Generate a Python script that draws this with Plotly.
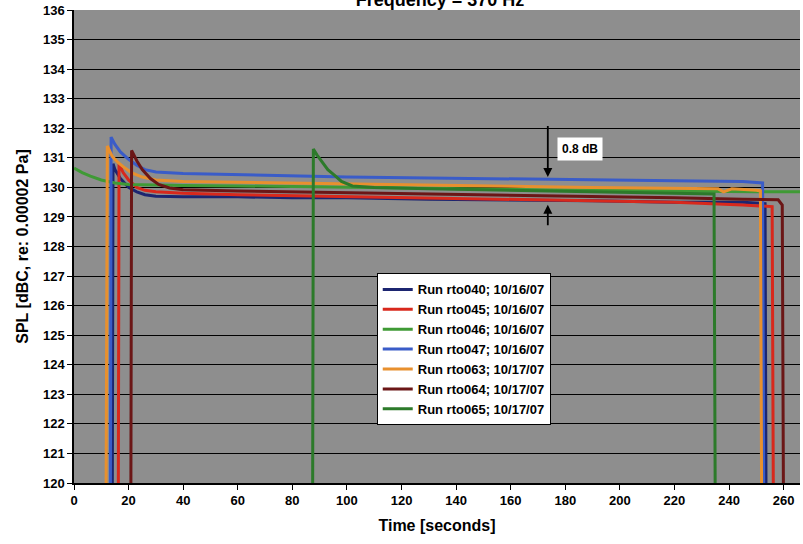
import plotly.graph_objects as go

# ---- data ----
names = ["Run rto040; 10/16/07", "Run rto045; 10/16/07", "Run rto046; 10/16/07",
         "Run rto047; 10/16/07", "Run rto063; 10/17/07", "Run rto064; 10/17/07",
         "Run rto065; 10/17/07"]
colors = ["#1c2570", "#d8281c", "#3f9a35", "#3a5cc8", "#e8902e", "#6b1616", "#2c7a2a"]

t040 = [14.0, 14.3, 15, 17, 20, 23, 26, 30, 40, 60, 80, 100, 130, 160, 190, 220, 245, 253.2, 253.6]
v040 = [118, 130.8, 130.6, 130.3, 130.0, 129.85, 129.75, 129.7, 129.68, 129.68, 129.65, 129.65, 129.6, 129.58, 129.55, 129.5, 129.5, 129.45, 118]

t045 = [16.2, 16.5, 18, 20, 23, 26, 30, 40, 60, 80, 100, 130, 160, 190, 220, 245, 255.8, 256.3]
v045 = [118, 130.8, 130.5, 130.25, 130.0, 129.9, 129.85, 129.8, 129.75, 129.72, 129.7, 129.65, 129.6, 129.55, 129.5, 129.4, 129.35, 118]

t046 = [0, 3, 6, 10, 15, 20, 30, 40, 60, 80, 100, 130, 160, 190, 220, 250, 266]
v046 = [130.65, 130.5, 130.38, 130.25, 130.15, 130.1, 130.08, 130.06, 130.05, 130.02, 130.0, 129.97, 129.93, 129.9, 129.87, 129.85, 129.85]

t047 = [13.3, 13.6, 15, 17, 20, 23, 26, 30, 40, 60, 80, 100, 130, 160, 190, 220, 245, 252.3, 252.8]
v047 = [118, 131.7, 131.45, 131.2, 130.95, 130.75, 130.6, 130.52, 130.47, 130.43, 130.38, 130.35, 130.32, 130.28, 130.25, 130.22, 130.2, 130.15, 118]

t063 = [11.7, 12.2, 14, 16, 18, 21, 25, 30, 40, 60, 80, 100, 130, 160, 190, 220, 236, 238, 241, 250, 251.5, 252]
v063 = [118, 131.4, 131.05, 130.85, 130.7, 130.5, 130.35, 130.25, 130.2, 130.17, 130.14, 130.12, 130.08, 130.04, 130.0, 129.97, 129.95, 129.85, 129.95, 129.9, 129.88, 118]

t064 = [20.8, 21.1, 23, 25, 28, 31, 35, 40, 60, 80, 100, 130, 160, 190, 220, 245, 258, 259.5, 260]
v064 = [118, 131.25, 130.9, 130.6, 130.3, 130.1, 129.98, 129.92, 129.88, 129.85, 129.83, 129.8, 129.75, 129.7, 129.65, 129.6, 129.58, 129.4, 118]

t065 = [87.4, 87.7, 89, 91, 93, 95.6, 98, 102, 110, 130, 160, 190, 220, 234.5, 235]
v065 = [118, 131.3, 131.1, 130.85, 130.6, 130.4, 130.2, 130.05, 130.0, 129.95, 129.9, 129.85, 129.8, 129.78, 118]

times = [t040, t045, t046, t047, t063, t064, t065]
values = [v040, v045, v046, v047, v063, v064, v065]

x_ticks = list(range(0, 261, 20))
y_ticks = list(range(120, 137, 1))

arrow_x = 173.6
arrow_top = (132.13, 130.35)
arrow_bottom = (128.67, 129.41)
label_text = "0.8 dB"

# ---- figure ----
FONT = "Arial, Liberation Sans, sans-serif"
fig = go.Figure()
for n, c, t, v in zip(names, colors, times, values):
    fig.add_trace(go.Scatter(x=t, y=v, mode="lines", name=n,
                             line=dict(color=c, width=3)))

fig.add_annotation(x=arrow_x, y=arrow_top[1], ax=arrow_x, ay=arrow_top[0],
                   xref="x", yref="y", axref="x", ayref="y", text="",
                   showarrow=True, arrowhead=2, arrowsize=1, arrowwidth=1.8,
                   arrowcolor="black")
fig.add_annotation(x=arrow_x, y=arrow_bottom[1], ax=arrow_x, ay=arrow_bottom[0],
                   xref="x", yref="y", axref="x", ayref="y", text="",
                   showarrow=True, arrowhead=2, arrowsize=1, arrowwidth=1.8,
                   arrowcolor="black")
fig.add_annotation(x=185.3, y=131.29, xref="x", yref="y", text=label_text,
                   showarrow=False, bgcolor="white", borderpad=4,
                   font=dict(family=FONT, size=12, color="black", weight="bold"))

fig.update_layout(
    width=803, height=544,
    margin=dict(l=74, r=3, t=7, b=61),
    paper_bgcolor="white", plot_bgcolor="#8e8e8e",
    title=dict(text="Frequency = 370 Hz", x=0.548, xanchor="center",
               y=1.0, yanchor="middle", yref="container",
               font=dict(family=FONT, size=18, color="black", weight="bold")),
    legend=dict(x=0.417, y=0.443, xanchor="left", yanchor="top",
                bgcolor="white", bordercolor="black", borderwidth=1,
                font=dict(family=FONT, size=13, color="black", weight="bold"),
                tracegroupgap=0, itemwidth=30),
    showlegend=True,
)
fig.update_xaxes(range=[0, 266], tickvals=x_ticks, showgrid=False, zeroline=False,
                 showline=True, linecolor="black", linewidth=1.5,
                 ticks="outside", ticklen=5, tickcolor="black",
                 ticklabeloverflow="allow",
                 tickfont=dict(family=FONT, size=13, color="black", weight="bold"),
                 title=dict(text="Time [seconds]", standoff=12,
                            font=dict(family=FONT, size=16, color="black", weight="bold")))
fig.update_yaxes(range=[120, 136], tickvals=y_ticks, showgrid=True, gridcolor="black",
                 gridwidth=1.2, zeroline=False,
                 showline=True, linecolor="black", linewidth=1.5,
                 ticks="outside", ticklen=5, tickcolor="black",
                 ticklabeloverflow="allow",
                 tickfont=dict(family=FONT, size=13, color="black", weight="bold"),
                 title=dict(text="SPL [dBC, re: 0.00002 Pa]", standoff=10,
                            font=dict(family=FONT, size=16, color="black", weight="bold")))

fig.write_html("out.html")
